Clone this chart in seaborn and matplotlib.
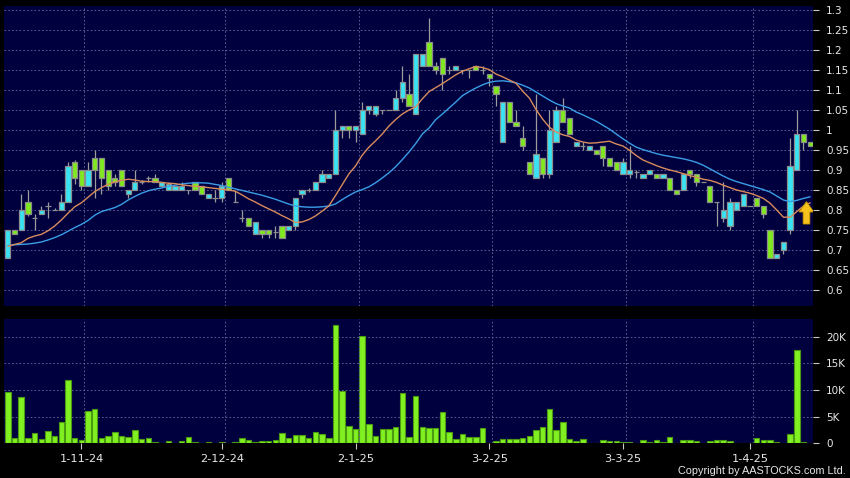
import matplotlib
matplotlib.use("Agg")
import matplotlib.pyplot as plt
import seaborn as sns
import pandas as pd
import numpy as np

# daily OHLC, one entry per trading day (mid Oct 2024 .. mid Apr 2025)
opens = [0.68, 0.75, 0.75, 0.82, 0.78, 0.79, 0.81, 0.80, 0.80, 0.82,
         0.92, 0.90, 0.86, 0.93, 0.93, 0.90, 0.88, 0.90, 0.84, 0.85,
         0.87, 0.88, 0.88, 0.86, 0.85, 0.85, 0.85, 0.85, 0.87, 0.86,
         0.83, 0.83, 0.83, 0.88, 0.82, 0.78, 0.78, 0.74, 0.75, 0.75,
         0.745, 0.76, 0.75, 0.76, 0.84, 0.85, 0.85, 0.87, 0.88, 0.89,
         1.00, 1.01, 1.00, 0.99, 1.05, 1.04, 1.05, 1.05, 1.05, 1.08,
         1.09, 1.04, 1.16, 1.22, 1.16, 1.18, 1.15, 1.15, 1.15, 1.15,
         1.16, 1.15, 1.14, 1.11, 0.97, 1.07, 1.02, 0.98, 0.92, 0.88,
         0.93, 0.89, 0.97, 1.05, 1.03, 0.96, 0.96, 0.95, 0.95, 0.96,
         0.93, 0.92, 0.89, 0.89, 0.895, 0.88, 0.89, 0.89, 0.88, 0.88,
         0.85, 0.85, 0.90, 0.89, 0.87, 0.86, 0.82, 0.78, 0.76, 0.80,
         0.81, 0.81, 0.83, 0.81, 0.75, 0.68, 0.70, 0.75, 0.90, 0.99,
         0.97]
highs = [0.75, 0.75, 0.84, 0.85, 0.79, 0.81, 0.82, 0.805, 0.84, 0.92,
         0.925, 0.90, 0.92, 0.95, 0.93, 0.90, 0.89, 0.90, 0.85, 0.90,
         0.875, 0.885, 0.89, 0.87, 0.87, 0.86, 0.87, 0.85, 0.87, 0.86,
         0.84, 0.85, 0.87, 0.88, 0.85, 0.80, 0.78, 0.77, 0.75, 0.75,
         0.76, 0.76, 0.76, 0.83, 0.85, 0.855, 0.87, 0.90, 0.89, 1.05,
         1.01, 1.01, 1.01, 1.07, 1.06, 1.06, 1.05, 1.05, 1.10, 1.16,
         1.14, 1.19, 1.19, 1.28, 1.17, 1.18, 1.16, 1.16, 1.15, 1.15,
         1.16, 1.16, 1.14, 1.11, 1.07, 1.07, 1.05, 1.01, 0.92, 1.09,
         0.93, 1.05, 1.06, 1.08, 1.03, 0.97, 0.97, 0.96, 0.95, 0.96,
         0.93, 0.92, 0.93, 0.96, 0.90, 0.89, 0.90, 0.89, 0.89, 0.88,
         0.85, 0.89, 0.90, 0.89, 0.87, 0.86, 0.82, 0.87, 0.83, 0.82,
         0.84, 0.81, 0.83, 0.81, 0.75, 0.69, 0.72, 0.98, 1.05, 0.99,
         0.97]
lows = [0.68, 0.74, 0.75, 0.785, 0.75, 0.79, 0.78, 0.80, 0.80, 0.82,
        0.865, 0.85, 0.86, 0.83, 0.84, 0.85, 0.86, 0.86, 0.83, 0.85,
        0.865, 0.87, 0.87, 0.86, 0.85, 0.85, 0.85, 0.84, 0.85, 0.84,
        0.83, 0.82, 0.82, 0.85, 0.82, 0.77, 0.76, 0.74, 0.73, 0.73,
        0.73, 0.73, 0.75, 0.75, 0.83, 0.845, 0.85, 0.87, 0.88, 0.89,
        0.98, 0.98, 0.97, 0.99, 1.04, 1.035, 1.04, 1.05, 1.05, 1.07,
        1.06, 1.04, 1.16, 1.16, 1.14, 1.10, 1.14, 1.15, 1.14, 1.13,
        1.15, 1.14, 1.11, 1.06, 0.97, 1.02, 1.01, 0.95, 0.89, 0.88,
        0.88, 0.88, 0.97, 1.02, 0.99, 0.96, 0.95, 0.95, 0.94, 0.91,
        0.91, 0.90, 0.89, 0.88, 0.88, 0.88, 0.89, 0.88, 0.88, 0.85,
        0.84, 0.85, 0.88, 0.86, 0.87, 0.82, 0.76, 0.77, 0.75, 0.80,
        0.81, 0.81, 0.81, 0.78, 0.68, 0.68, 0.69, 0.74, 0.90, 0.95,
        0.96]
closes = [0.75, 0.74, 0.80, 0.79, 0.78, 0.80, 0.81, 0.80, 0.82, 0.91,
          0.88, 0.86, 0.90, 0.90, 0.88, 0.86, 0.87, 0.86, 0.85, 0.87,
          0.87, 0.88, 0.87, 0.87, 0.865, 0.86, 0.86, 0.85, 0.85, 0.84,
          0.84, 0.83, 0.86, 0.85, 0.82, 0.78, 0.76, 0.77, 0.74, 0.74,
          0.745, 0.73, 0.76, 0.83, 0.85, 0.85, 0.87, 0.89, 0.89, 1.00,
          1.01, 1.00, 1.01, 1.05, 1.06, 1.06, 1.05, 1.05, 1.08, 1.12,
          1.06, 1.19, 1.19, 1.16, 1.15, 1.14, 1.15, 1.16, 1.15, 1.15,
          1.15, 1.15, 1.13, 1.09, 1.07, 1.02, 1.01, 0.96, 0.89, 0.94,
          0.89, 1.00, 1.05, 1.02, 0.99, 0.97, 0.96, 0.96, 0.94, 0.93,
          0.91, 0.90, 0.92, 0.90, 0.895, 0.89, 0.90, 0.88, 0.89, 0.85,
          0.84, 0.89, 0.89, 0.87, 0.87, 0.82, 0.82, 0.80, 0.82, 0.82,
          0.84, 0.81, 0.81, 0.79, 0.68, 0.69, 0.72, 0.91, 0.99, 0.97,
          0.96]

# moving averages as drawn on the chart
ma10 = [0.709, 0.714, 0.718, 0.729, 0.735, 0.739, 0.748, 0.760, 0.775, 0.792,
        0.808, 0.818, 0.832, 0.846, 0.856, 0.864, 0.870, 0.874, 0.877, 0.875,
        0.872, 0.871, 0.871, 0.869, 0.867, 0.866, 0.863, 0.861, 0.859, 0.858,
        0.856, 0.854, 0.852, 0.850, 0.847, 0.838, 0.828, 0.820, 0.811, 0.803,
        0.795, 0.786, 0.778, 0.769, 0.770, 0.776, 0.785, 0.797, 0.810, 0.836,
        0.863, 0.890, 0.910, 0.937, 0.957, 0.973, 0.990, 1.010, 1.026, 1.040,
        1.050, 1.058, 1.078, 1.096, 1.106, 1.116, 1.127, 1.138, 1.147, 1.153,
        1.159, 1.156, 1.151, 1.140, 1.133, 1.125, 1.117, 1.097, 1.080, 1.051,
        1.027, 1.007, 0.995, 0.988, 0.984, 0.975, 0.970, 0.967, 0.968, 0.970,
        0.972, 0.965, 0.960, 0.949, 0.936, 0.925, 0.918, 0.911, 0.905, 0.900,
        0.896, 0.891, 0.886, 0.882, 0.877, 0.874, 0.869, 0.862, 0.856, 0.850,
        0.846, 0.842, 0.836, 0.829, 0.817, 0.800, 0.782, 0.782, 0.796, 0.810,
        0.818]
ma20 = [0.711, 0.713, 0.714, 0.715, 0.717, 0.720, 0.725, 0.731, 0.738, 0.747,
        0.756, 0.764, 0.774, 0.787, 0.796, 0.801, 0.806, 0.814, 0.825, 0.834,
        0.842, 0.848, 0.852, 0.855, 0.859, 0.862, 0.865, 0.867, 0.868, 0.868,
        0.867, 0.864, 0.861, 0.857, 0.853, 0.849, 0.845, 0.841, 0.837, 0.832,
        0.827, 0.821, 0.815, 0.810, 0.808, 0.807, 0.807, 0.808, 0.810, 0.815,
        0.826, 0.836, 0.845, 0.851, 0.858, 0.868, 0.880, 0.893, 0.908, 0.926,
        0.945, 0.966, 0.990, 1.005, 1.026, 1.040, 1.055, 1.070, 1.086, 1.096,
        1.105, 1.113, 1.119, 1.122, 1.123, 1.121, 1.118, 1.112, 1.105, 1.095,
        1.085, 1.075, 1.066, 1.060, 1.055, 1.045, 1.038, 1.030, 1.022, 1.012,
        1.002, 0.990, 0.978, 0.967, 0.957, 0.951, 0.946, 0.941, 0.937, 0.934,
        0.931, 0.928, 0.924, 0.919, 0.912, 0.903, 0.894, 0.885, 0.877, 0.871,
        0.866, 0.861, 0.856, 0.851, 0.845, 0.835, 0.825, 0.821, 0.824, 0.829,
        0.833]

# volume in thousands of shares
volume_k = [9.7, 0.94, 8.75, 0.94, 1.9, 0.75, 2.3, 1.4, 3.9, 11.9,
            1.06, 0.6, 6.1, 6.4, 1.06, 1.4, 2.2, 1.4, 1.25, 2.5,
            0.75, 0.94, 0.3, 0.12, 0.5, 0.06, 0.44, 1.2, 0.2, 0.06,
            0.3, 0.06, 0.3, 0.12, 0.2, 0.94, 0.6, 0.25, 0.4, 0.44,
            0.7, 1.9, 0.94, 1.56, 1.6, 0.94, 2.1, 1.7, 1.06, 22.2,
            9.8, 3.25, 2.6, 20.1, 3.56, 1.4, 2.75, 2.75, 3.06, 9.5,
            1.25, 8.9, 3.0, 2.8, 2.8, 5.9, 2.2, 0.75, 1.7, 1.25,
            1.2, 2.8, 0.12, 0.5, 0.8, 0.8, 0.8, 1.06, 1.3, 2.5,
            3.0, 6.4, 2.4, 3.9, 0.75, 0.5, 0.75, 0.12, 0.06, 0.6,
            0.4, 0.44, 0.3, 0.25, 0.12, 0.7, 0.25, 0.56, 0.25, 1.25,
            0.06, 0.7, 0.7, 0.4, 0.06, 0.4, 0.6, 0.7, 0.44, 0.06,
            0.06, 0.12, 1.0, 0.56, 0.7, 0.25, 0.06, 1.75, 17.5, 0.2,
            0.06]

date_ticks = [11, 32, 52, 72, 92, 111]
date_labels = ['1-11-24', '2-12-24', '2-1-25', '3-2-25', '3-3-25', '1-4-25']
price_ticks = [0.6, 0.65, 0.7, 0.75, 0.8, 0.85, 0.9, 0.95, 1.0, 1.05, 1.1, 1.15, 1.2, 1.25, 1.3]
price_labels = ['0.6', '0.65', '0.7', '0.75', '0.8', '0.85', '0.9', '0.95', '1',
                '1.05', '1.1', '1.15', '1.2', '1.25', '1.3']
vol_ticks = [0, 5, 10, 15, 20]
vol_labels = ['0', '5K', '10K', '15K', '20K']

BG = '#00003f'
GRID = '#6a6a9c'
TXT = '#e8e8e8'
CYAN = '#38e4f4'
GREEN = '#80ea1e'

sns.set_style("dark", {"axes.facecolor": BG, "figure.facecolor": "black"})
plt.rcParams['font.family'] = ['DejaVu Sans']

df = pd.DataFrame({'idx': range(len(closes)), 'open': opens, 'high': highs,
                   'low': lows, 'close': closes, 'ma10': ma10, 'ma20': ma20,
                   'vol': volume_k})

fig = plt.figure(figsize=(8.5, 4.78), dpi=100)
ax = fig.add_axes([0.00529, 0.35983, 0.95176, 0.62762])
axv = fig.add_axes([0.00529, 0.07259, 0.95176, 0.26004])

# candles
body_col = np.where(df.close > df.open, CYAN, np.where(df.close < df.open, GREEN, '#b0b0b0'))
ax.vlines(df.idx, df.low, df.high, color='#9c9c9c', lw=0.9, zorder=2)
ax.bar(df.idx, (df.close - df.open).abs(), bottom=df[['open', 'close']].min(axis=1),
       width=0.78, color=body_col, edgecolor='#8c8c8c', linewidth=0.9, zorder=3)

sns.lineplot(data=df, x='idx', y='ma20', color='#3a9ee6', lw=1.0, ax=ax, zorder=4)
sns.lineplot(data=df, x='idx', y='ma10', color='#d88c5c', lw=1.0, ax=ax, zorder=5)

# gold arrow at the latest bar
ax.arrow(119.45, 0.765, 0, 0.056, width=1.0, head_width=2.2, head_length=0.026,
         length_includes_head=True, fc='#f6c21c', ec='#c99400', lw=0.6, zorder=6)

# volume
sns.barplot(data=df, x='idx', y='vol', native_scale=True, width=0.82, color='#80f020',
            saturation=1, edgecolor='#4a9a12', linewidth=0.8, errorbar=None, ax=axv)

for a in (ax, axv):
    a.set_xlim(-0.5, 120.5)
    a.set_xlabel('')
    a.set_ylabel('')
    a.grid(False)
    a.yaxis.grid(True, color=GRID, linestyle=(0, (2, 2.5)), linewidth=0.6)
    for t in date_ticks:
        a.axvline(t + 0.45, color=GRID, linestyle=(0, (2, 2.5)), linewidth=0.6, zorder=1)
    a.set_axisbelow(True)
    for s in a.spines.values():
        s.set_visible(False)
    a.yaxis.tick_right()
    a.tick_params(axis='y', right=True, left=False, labelright=True, labelleft=False,
                  length=4, width=0.8, color='#c8c8c8', labelcolor=TXT,
                  labelsize=7.5, pad=5, direction='out')

ax.set_ylim(0.56, 1.31)
ax.set_yticks(price_ticks, price_labels)
ax.set_xticks([])

axv.set_ylim(0, 23.3)
axv.set_yticks(vol_ticks, vol_labels)
axv.set_xticks(date_ticks, date_labels)
axv.tick_params(axis='x', bottom=True, length=4, width=0.8, color='#c8c8c8',
                labelcolor=TXT, labelsize=8.2, pad=4, direction='out')

fig.text(0.9953, 0.008, 'Copyright by AASTOCKS.com Ltd.', color=TXT, fontsize=7.8,
         family='Liberation Sans', ha='right', va='baseline')

fig.savefig('out.png', dpi=100, facecolor='black')
